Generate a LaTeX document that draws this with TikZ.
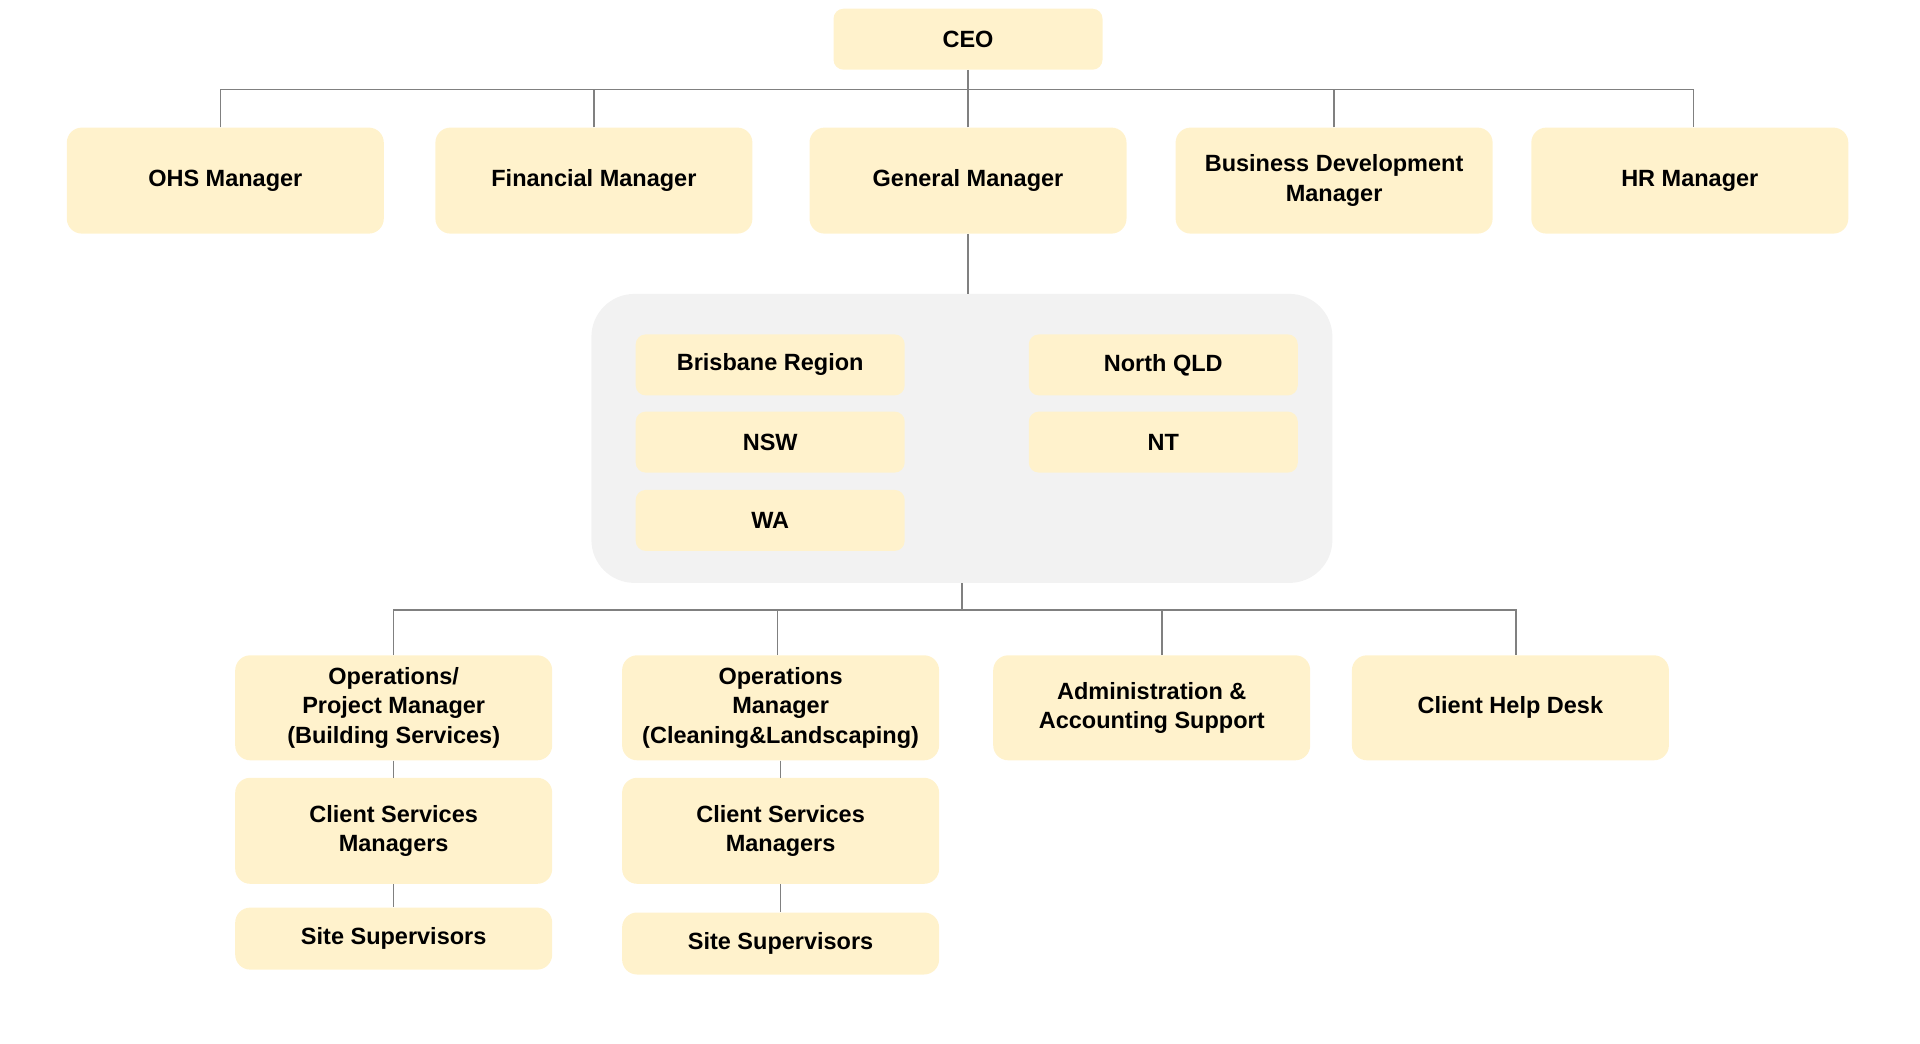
\documentclass[tikz,border=0pt]{standalone}
\usepackage{fontspec}
\setmainfont{Liberation Sans}
\definecolor{boxfill}{HTML}{FFF2CC}
\definecolor{groupfill}{HTML}{F2F2F2}
\definecolor{linegray}{HTML}{808080}
\begin{document}
\begin{tikzpicture}[x=1pt,y=-1pt,
  box/.style={fill=boxfill, rounded corners=15pt, align=center, inner sep=0pt,
    font=\bfseries\fontsize{23.5}{29.4}\selectfont,
    minimum width=317pt, minimum height=106pt},
  small/.style={box, rounded corners=10pt, minimum width=269pt, minimum height=61pt},
  groupbox/.style={fill=groupfill, rounded corners=43pt, inner sep=0pt,
    minimum width=741pt, minimum height=289pt},
  conn/.style={draw=linegray, line width=1.5pt}]
\useasboundingbox (0,0) rectangle (1920,1044);

% top levels
\node[small] (ceo) at (968,39.2) {CEO};
\node[box] (ohs) at (225.3,180.6) {OHS Manager};
\node[box] (fin) at (593.9,180.6) {Financial Manager};
\node[box] (gm) at (968,180.6) {General Manager};
\node[box] (bdm) at (1334.1,180.6) {Business Development\\Manager};
\node[box] (hr) at (1689.8,180.6) {HR Manager};

% regions group
\node[groupbox] (group) at (961.9,438.4) {};
\node[small] (bris) at (770.2,364.9) {Brisbane Region};
\node[small] (nsw) at (770.2,442.1) {NSW};
\node[small] (wa) at (770.2,520.4) {WA};
\node[small] (nqld) at (1163.3,364.9) {North QLD};
\node[small] (nt) at (1163.3,442.1) {NT};

% bottom levels
\node[box, minimum height=105pt] (ops1) at (393.7,707.8) {Operations/\\Project Manager\\(Building Services)};
\node[box, minimum height=105pt] (ops2) at (780.6,707.8) {Operations\\Manager\\(Cleaning\&Landscaping)};
\node[box, minimum height=105pt] (admin) at (1151.7,707.8) {Administration \&\\Accounting Support};
\node[box, minimum height=105pt] (help) at (1510.4,707.8) {Client Help Desk};
\node[box] (cs1) at (393.7,830.8) {Client Services\\Managers};
\node[box] (cs2) at (780.6,830.8) {Client Services\\Managers};
\node[box, minimum height=62pt] (site1) at (393.7,938.6) {Site Supervisors};
\node[box, minimum height=62pt] (site2) at (780.6,943.5) {Site Supervisors};

% connectors
\coordinate (bus1) at (968,89.4);
\coordinate (bus2) at (960,609.8);
\draw[conn] (ceo.south) -- (bus1);
\draw[conn] ([xshift=-4.9pt]ohs.north) |- (bus1) -| ([xshift=3.7pt]hr.north);
\draw[conn] (fin.north) -- (fin.north |- bus1);
\draw[conn] (gm.north) -- (gm.north |- bus1);
\draw[conn] (bdm.north) -- (bdm.north |- bus1);
\draw[conn] (gm.south) -- (gm.south |- group.north);
\draw[conn] (group.south) -- (group.south |- bus2);
\draw[conn] (ops1.north) |- (bus2) -| ([xshift=5.5pt]help.north);
\draw[conn] ([xshift=-3pt]ops2.north) -- ([xshift=-3pt]ops2.north |- bus2);
\draw[conn] ([xshift=10.4pt]admin.north) -- ([xshift=10.4pt]admin.north |- bus2);
\draw[conn] (ops1.south) -- (cs1.north);
\draw[conn] (cs1.south) -- (site1.north);
\draw[conn] (ops2.south) -- (cs2.north);
\draw[conn] (cs2.south) -- (site2.north);
\end{tikzpicture}
\end{document}
